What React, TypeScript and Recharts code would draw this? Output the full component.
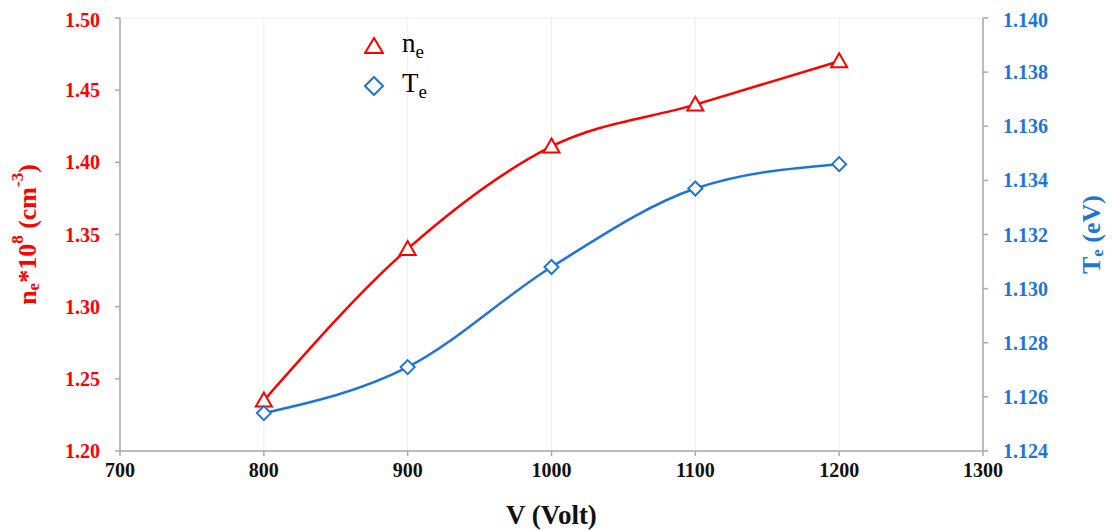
import React from 'react'
import { LineChart, Line, XAxis, YAxis, CartesianGrid, Legend, Label } from 'recharts'

const voltages = [800, 900, 1000, 1100, 1200]
const neValues = [1.235, 1.34, 1.411, 1.44, 1.47]
const teValues = [1.1254, 1.1271, 1.1308, 1.1337, 1.1346]

const xTicks = [700, 800, 900, 1000, 1100, 1200, 1300]
const leftTicks = [1.2, 1.25, 1.3, 1.35, 1.4, 1.45, 1.5]
const rightTicks = [1.124, 1.126, 1.128, 1.13, 1.132, 1.134, 1.136, 1.138, 1.14]

const RED = '#ff0000'
const BLUE = '#1f75d3'
const FONT = "'Liberation Serif', 'Times New Roman', serif"

const data = voltages.map((v, i) => ({ v, ne: neValues[i], te: teValues[i] }))

const TriDot = (p: any) => {
  const { cx, cy, index } = p
  if (cx == null || cy == null) return null
  return (
    <path
      key={`tri-${index}`}
      d={`M${cx},${cy - 8} L${cx + 8},${cy + 6} L${cx - 8},${cy + 6} Z`}
      fill="#fff"
      stroke={RED}
      strokeWidth={2}
    />
  )
}

const DiaDot = (p: any) => {
  const { cx, cy, index } = p
  if (cx == null || cy == null) return null
  return (
    <path
      key={`dia-${index}`}
      d={`M${cx},${cy - 7} L${cx + 7},${cy} L${cx},${cy + 7} L${cx - 7},${cy} Z`}
      fill="#fff"
      stroke={BLUE}
      strokeWidth={2}
    />
  )
}

const LeftTitle = (props: any) => {
  const { x, y, height } = props.viewBox
  const cx = x + 19
  const cy = y + height / 2
  return (
    <text
      x={cx}
      y={cy}
      transform={`rotate(-90 ${cx} ${cy})`}
      textAnchor="middle"
      dominantBaseline="central"
      fill={RED}
      style={{ fontFamily: FONT, fontWeight: 'bold', fontSize: 26 }}
    >
      <tspan>n</tspan>
      <tspan style={{ fontSize: 17 }} dy={6}>e</tspan>
      <tspan dy={-6}>*10</tspan>
      <tspan style={{ fontSize: 17 }} dy={-10}>8</tspan>
      <tspan dy={10}> (cm</tspan>
      <tspan style={{ fontSize: 17 }} dy={-10}>-3</tspan>
      <tspan dy={10}>)</tspan>
    </text>
  )
}

const RightTitle = (props: any) => {
  const { x, y, height } = props.viewBox
  const cx = x + 108
  const cy = y + height / 2
  return (
    <text
      x={cx}
      y={cy}
      transform={`rotate(-90 ${cx} ${cy})`}
      textAnchor="middle"
      dominantBaseline="central"
      fill={BLUE}
      style={{ fontFamily: FONT, fontWeight: 'bold', fontSize: 26 }}
    >
      <tspan>T</tspan>
      <tspan style={{ fontSize: 17 }} dy={6}>e</tspan>
      <tspan dy={-6}> (eV)</tspan>
    </text>
  )
}

const LegendBox = () => (
  <div style={{ fontFamily: FONT, fontSize: 27, color: '#000' }}>
    <div style={{ display: 'flex', alignItems: 'center', height: 40 }}>
      <svg width={20} height={20}>
        <path d="M10,2 L19,17 L1,17 Z" fill="#fff" stroke={RED} strokeWidth={2} />
      </svg>
      <span style={{ marginLeft: 18 }}>
        n<sub style={{ fontSize: 19 }}>e</sub>
      </span>
    </div>
    <div style={{ display: 'flex', alignItems: 'center', height: 40 }}>
      <svg width={20} height={20}>
        <path d="M10,1 L19,10 L10,19 L1,10 Z" fill="#fff" stroke={BLUE} strokeWidth={2} />
      </svg>
      <span style={{ marginLeft: 18 }}>
        T<sub style={{ fontSize: 19 }}>e</sub>
      </span>
    </div>
  </div>
)

const tickStyle = (fill: string) => ({
  fill,
  style: { fontFamily: FONT, fontWeight: 'bold', fontSize: 20 },
})

export default function App() {
  return (
    <div style={{ position: 'absolute', left: 8, top: 8, fontFamily: FONT }}>
      <LineChart
        width={1104}
        height={523}
        data={data}
        margin={{ top: 10, right: 0, bottom: 0, left: 0 }}
      >
        <CartesianGrid stroke="#efefef" strokeWidth={1} />
        <XAxis
          dataKey="v"
          type="number"
          domain={[700, 1300]}
          ticks={xTicks}
          height={80}
          tickSize={5}
          tickMargin={7}
          stroke="#aaaaaa"
          strokeWidth={1.5}
          tick={tickStyle('#111')}
        >
          <Label
            value="V (Volt)"
            position="insideBottom"
            offset={7}
            style={{ fill: '#111', fontFamily: FONT, fontWeight: 'bold', fontSize: 27 }}
          />
        </XAxis>
        <YAxis
          yAxisId="left"
          orientation="left"
          domain={[1.2, 1.5]}
          ticks={leftTicks}
          width={112}
          tickSize={5}
          tickMargin={15}
          stroke="#aaaaaa"
          strokeWidth={1.5}
          tickFormatter={(t: number) => t.toFixed(2)}
          tick={tickStyle(RED)}
          label={<LeftTitle />}
        />
        <YAxis
          yAxisId="right"
          orientation="right"
          domain={[1.124, 1.14]}
          ticks={rightTicks}
          width={129}
          tickSize={5}
          tickMargin={15}
          stroke="#aaaaaa"
          strokeWidth={1.5}
          tickFormatter={(t: number) => t.toFixed(3)}
          tick={tickStyle(BLUE)}
          label={<RightTitle />}
        />
        <Legend
          layout="vertical"
          align="center"
          verticalAlign="middle"
          content={<LegendBox />}
          wrapperStyle={{ left: 356, top: 18, bottom: 'auto', width: 'auto', height: 'auto' }}
        />
        <Line
          yAxisId="left"
          type="monotone"
          dataKey="ne"
          stroke={RED}
          strokeWidth={2.5}
          dot={TriDot}
          activeDot={false}
          isAnimationActive={false}
        />
        <Line
          yAxisId="right"
          type="monotone"
          dataKey="te"
          stroke={BLUE}
          strokeWidth={2.5}
          dot={DiaDot}
          activeDot={false}
          isAnimationActive={false}
        />
      </LineChart>
    </div>
  )
}
